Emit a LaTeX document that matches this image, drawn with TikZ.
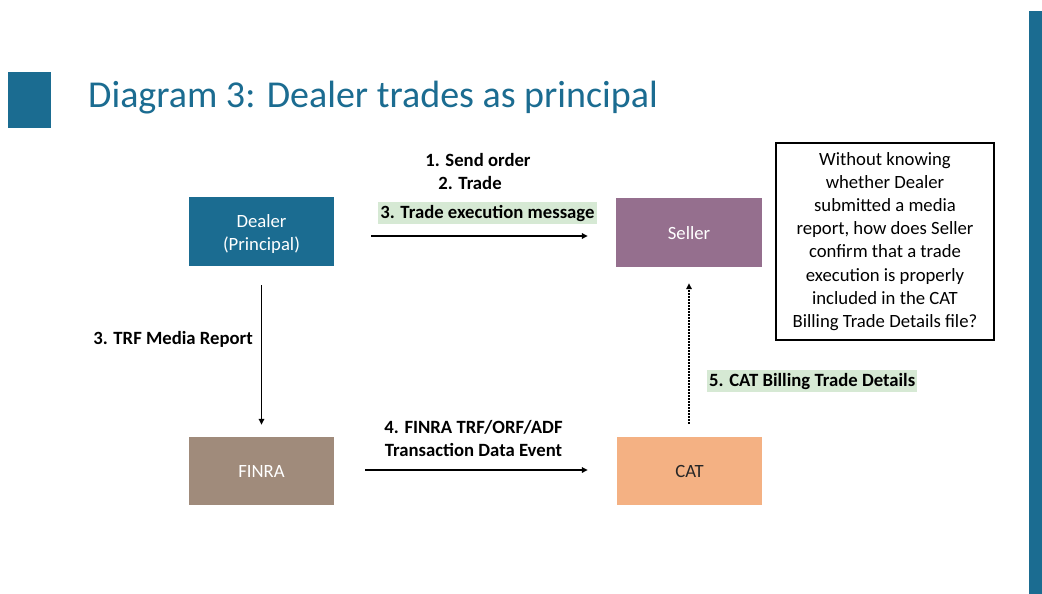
\documentclass[tikz,border=0pt]{standalone}
\usepackage{fontspec}
\setmainfont{Carlito}
\usetikzlibrary{arrows.meta}
\definecolor{teal}{HTML}{1B6C91}
\definecolor{sellerc}{HTML}{956F8E}
\definecolor{finrac}{HTML}{A08B7B}
\definecolor{catc}{HTML}{F4B183}
\definecolor{hl}{HTML}{D6E9D4}
\newcommand{\lowered}[2]{\raisebox{-#1}[\height][\depth]{\begin{tabular}{@{}c@{}}#2\end{tabular}}}
\tikzset{
  box/.style={draw=none, minimum width=145pt, minimum height=69pt, inner sep=0pt, align=center, font=\fontsize{18.7}{23}\selectfont},
  lbl/.style={font=\bfseries\fontsize{18.7}{23}\selectfont, inner sep=0pt, anchor=base},
  hlbl/.style={lbl, fill=hl, inner xsep=2pt, inner ysep=3pt},
  conn/.style={line width=1.5pt, -{Triangle[length=6pt,width=5.5pt]}},
  dotconn/.style={conn, dash pattern=on 1.5pt off 1.5pt}
}
\begin{document}
\begin{tikzpicture}[x=1pt,y=-1pt]
\path[use as bounding box, fill=white] (0,0) rectangle (1042,594);
% decoration
\fill[teal] (8,72) rectangle (51,128);
\fill[teal] (1029,11) rectangle (1042,594);
\node[anchor=base west, inner sep=0pt, text=teal, font=\fontsize{38}{44}\selectfont] (title) at (88,107) {Diagram 3: Dealer trades as principal};
% boxes
\node[box, fill=teal, text=white] (dealer) at (261.5,231.5) {\lowered{3pt}{Dealer\\(Principal)}};
\node[box, fill=sellerc, text=white, minimum width=146pt] (seller) at (689,232.5) {\lowered{2pt}{Seller}};
\node[box, fill=finrac, text=white, minimum height=68pt] (finra) at (261.5,471) {FINRA};
\node[box, fill=catc, text=black!85, minimum height=68pt] (cat) at (689.5,471) {CAT};
\node[draw=black, line width=1.2pt, minimum width=218pt, minimum height=197pt, inner sep=0pt, align=center, font=\fontsize{18.7}{23.1}\selectfont] (note) at (885,241.5)
 {Without knowing\\whether Dealer\\submitted a media\\report, how does Seller\\confirm that a trade\\execution is properly\\included in the CAT\\Billing Trade Details file?};
% labels
\node[lbl] (l1) at (478,166) {1. Send order};
\node[lbl] (l2) at (470,189) {2. Trade};
\node[hlbl] (l3) at (487.5,218) {3. Trade execution message};
\node[lbl, anchor=base east] (l3b) at (253,344) {3. TRF Media Report};
\node[lbl] (l4a) at (473.5,433) {4. FINRA TRF/ORF/ADF};
\node[lbl] (l4b) at (473.5,456) {Transaction Data Event};
\node[hlbl, anchor=base west] (l5) at (707,386) {5. CAT Billing Trade Details};
% connectors
\draw[conn, shorten <=37pt, shorten >=28pt] ([yshift=-4.5pt]dealer.east) -- ([yshift=-3.5pt]seller.west);
\draw[conn, shorten <=19pt, shorten >=12pt] (dealer.south) -- (finra.north);
\draw[conn, shorten <=31pt, shorten >=29pt] ([yshift=1pt]finra.east) -- ([yshift=1pt]cat.west);
\draw[dotconn, shorten <=13pt, shorten >=16pt] ([xshift=-0.5pt]cat.north) -- (seller.south);
\end{tikzpicture}
\end{document}
